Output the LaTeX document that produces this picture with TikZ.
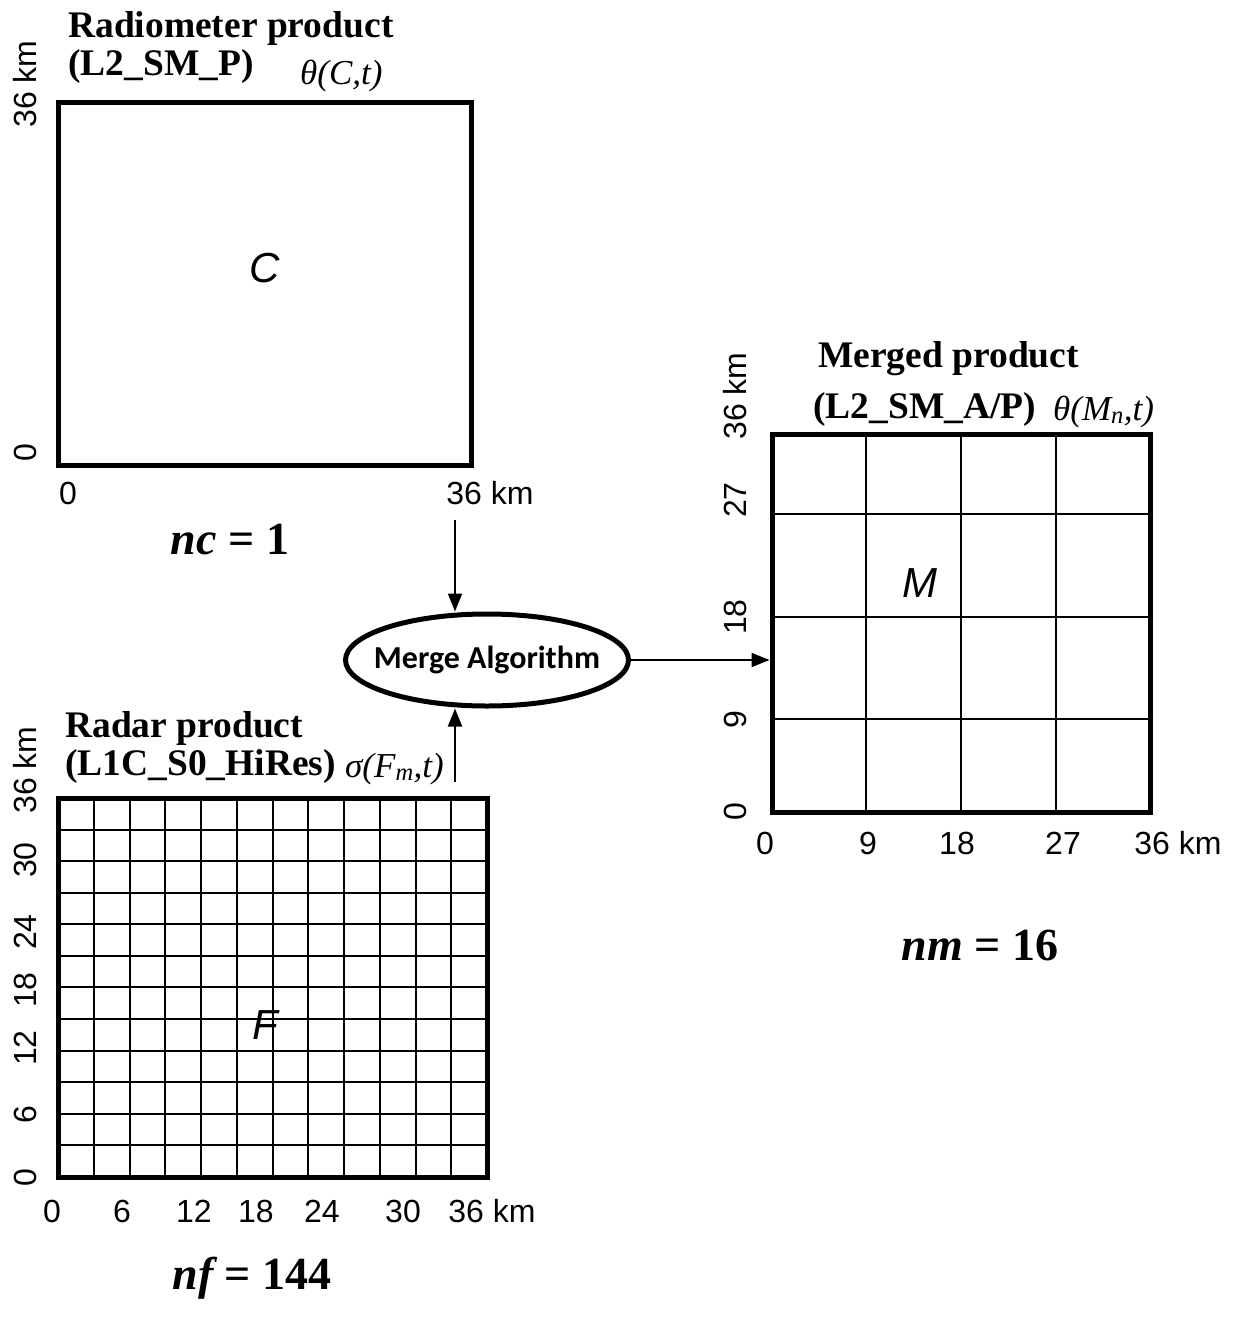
\documentclass[tikz,border=0pt]{standalone}
\usepackage{fontspec}
\setmainfont{Liberation Serif}
\setsansfont{Liberation Sans}
\newfontfamily\mergefont{Carlito}
\usetikzlibrary{shapes.geometric,arrows.meta,positioning}

\begin{document}
\begin{tikzpicture}[x=1pt,y=-1pt,
    box/.style={draw=black,line width=5pt,inner sep=0pt},
    gridline/.style={draw=black,line width=2pt},
    arr/.style={-{Triangle[length=18pt,width=14pt]},line width=2pt},
    ticklbl/.style={font=\sffamily\fontsize{32}{34}\selectfont,inner sep=0pt},
    vlbl/.style={ticklbl,rotate=90},
    title/.style={font=\bfseries\fontsize{37.5}{40}\selectfont,anchor=base west,inner sep=0pt},
    varlbl/.style={font=\itshape\fontsize{35}{37}\selectfont,anchor=base west,inner sep=0pt},
    cell/.style={font=\sffamily\itshape\fontsize{42}{44}\selectfont,inner sep=0pt},
    count/.style={font=\bfseries\fontsize{46}{48}\selectfont,inner sep=0pt}]
    \useasboundingbox (0,0) rectangle (1232,1317);

    % radiometer product
    \node[box,minimum width=413pt,minimum height=363pt] (C) at (264.5,283.5) {};
    \node[cell] (Clbl) at (265,268) {C};
    \node[title] (radtitle) at (68,37) {Radiometer product};
    \node[title] (radcode) at (68,75) {(L2\_SM\_P)};
    \node[varlbl] (thetaC) at (300,84) {θ(C,t)};
    \node[vlbl] (Cy36) at (25,84) {36 km};
    \node[vlbl] (Cy0) at (25,453) {0};
    \node[ticklbl] (Cx0) at (68,493) {0};
    \node[ticklbl] (Cx36) at (490,493) {36 km};
    \node[count] (nc) at (230,540) {\itshape nc\upshape\ = 1};

    % merge algorithm
    \node[draw=black,line width=5pt,ellipse,minimum width=283pt,minimum height=92pt,
        inner xsep=-16pt,inner ysep=0pt,
        font=\mergefont\bfseries\fontsize{32}{34}\selectfont] (merge) at (487,660) {Merge Algorithm};

    % merged product
    \foreach \x in {866,961,1056}
        \draw[gridline] (\x,434) -- (\x,812);
    \foreach \y in {514,617,719}
        \draw[gridline] (772,\y) -- (1150,\y);
    \node[box,minimum width=378pt,minimum height=378pt] (M) at (961,623) {};
    \node[cell] (Mlbl) at (920,583) {M};
    \node[title] (mrgtitle) at (818,367) {Merged product};
    \node[title] (mrgcode) at (813,418) {(L2\_SM\_A/P)};
    \node[varlbl] (thetaM) at (1053,420) {θ(M\textsubscript{n},t)};
    \node[vlbl] (My36) at (735,396) {36 km};
    \node[vlbl] (My27) at (735,500) {27};
    \node[vlbl] (My18) at (735,617) {18};
    \node[vlbl] (My9) at (735,720) {9};
    \node[vlbl] (My0) at (735,812) {0};
    \node[ticklbl] (Mx0) at (765,843) {0};
    \node[ticklbl] (Mx9) at (868,843) {9};
    \node[ticklbl] (Mx18) at (957,843) {18};
    \node[ticklbl] (Mx27) at (1063,843) {27};
    \node[ticklbl] (Mx36) at (1178,843) {36 km};
    \node[count] (nm) at (980,945) {\itshape nm\upshape\ = 16};

    % radar product
    \foreach \i in {1,...,11} {
        \draw[gridline] ({58+\i*35.75},798) -- ({58+\i*35.75},1177);
        \draw[gridline] (58,{798+\i*31.58}) -- (487,{798+\i*31.58});
    }
    \node[box,minimum width=429pt,minimum height=379pt] (F) at (272.5,987.5) {};
    \node[cell] (Flbl) at (265,1025) {F};
    \node[title] (radrtitle) at (65,737) {Radar product};
    \node[title] (radrcode) at (65,775) {(L1C\_S0\_HiRes)};
    \node[varlbl] (sigmaF) at (345,777) {σ(F\textsubscript{m},t)};
    \node[vlbl] (Fy36) at (25,770) {36 km};
    \node[vlbl] (Fy30) at (25,860) {30};
    \node[vlbl] (Fy24) at (25,932) {24};
    \node[vlbl] (Fy18) at (25,990) {18};
    \node[vlbl] (Fy12) at (25,1048) {12};
    \node[vlbl] (Fy6) at (25,1115) {6};
    \node[vlbl] (Fy0) at (25,1178) {0};
    \node[ticklbl] (Fx0) at (52,1211) {0};
    \node[ticklbl] (Fx6) at (122,1211) {6};
    \node[ticklbl] (Fx12) at (194,1211) {12};
    \node[ticklbl] (Fx18) at (256,1211) {18};
    \node[ticklbl] (Fx24) at (322,1211) {24};
    \node[ticklbl] (Fx30) at (403,1211) {30};
    \node[ticklbl] (Fx36) at (492,1211) {36 km};
    \node[count] (nf) at (252,1278) {\itshape nf\upshape\ = 144};

    % arrows into and out of the merge
    \coordinate (cin) at (455,520);
    \coordinate (fin) at (455,782);
    \path [arr] (cin) edge (cin |- merge.north);
    \path [arr] (fin) edge (fin |- merge.south);
    \path [arr] (merge.east) edge (merge.east -| M.west);
\end{tikzpicture}
\end{document}
